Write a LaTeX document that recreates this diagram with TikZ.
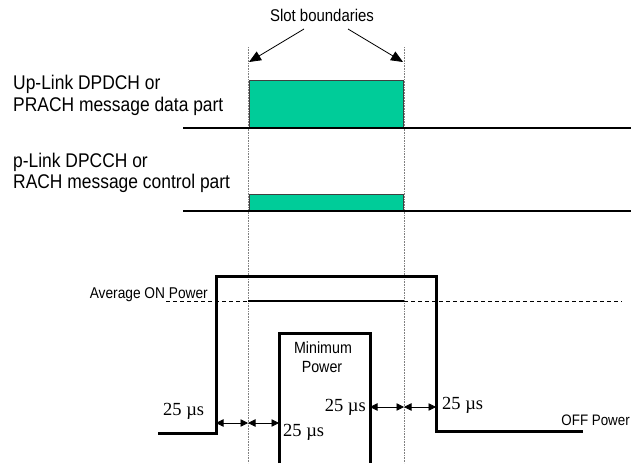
\documentclass[tikz,border=0pt]{standalone}
\usepackage{fontspec}
\setmainfont{Liberation Sans}[FakeStretch=0.88]
\newfontfamily\timesf{Liberation Serif}
\usetikzlibrary{arrows.meta}
\definecolor{slotgreen}{RGB}{0,204,153}
\begin{document}
\begin{tikzpicture}[x=1pt,y=-1pt,
  biglbl/.style={inner sep=0pt, font=\fontsize{19.8}{22}\selectfont, anchor=base west},
  smalllbl/.style={inner sep=0pt, font=\fontsize{15.6}{18}\selectfont},
  uslbl/.style={inner sep=0pt, font=\timesf\fontsize{18.5}{20}\selectfont, anchor=base west},
  slotline/.style={densely dotted, gray, line width=0.6pt},
  baseln/.style={line width=2.3pt},
  pulse/.style={line width=3pt, line join=miter},
  greenbox/.style={fill=slotgreen, draw=black!75, line width=0.9pt},
  slotarrow/.style={line width=0.8pt, -{Triangle[length=12pt,width=10pt]}},
  durarrow/.style={line width=0.8pt, {Triangle[length=7.5pt,width=7.5pt]}-{Triangle[length=7.5pt,width=7.5pt]}},
  avgdash/.style={line width=1pt, dash pattern=on 4pt off 3pt}
]
\useasboundingbox (0,0) rectangle (631,463);

% coordinates
\coordinate (dl1) at (248,47);  \coordinate (dl2) at (248,463);
\coordinate (dr1) at (404,47);  \coordinate (dr2) at (404,463);
\coordinate (as1) at (304,29);  \coordinate (at1) at (249,62);
\coordinate (as2) at (348,29);  \coordinate (at2) at (403,62);
\coordinate (b1s) at (183,128); \coordinate (b1e) at (631,128);
\coordinate (b2s) at (183,211); \coordinate (b2e) at (631,211);
\coordinate (g1a) at (249,80);  \coordinate (g1b) at (403,128);
\coordinate (g2a) at (249,194); \coordinate (g2b) at (403,211);
\coordinate (avs) at (166,301); \coordinate (ava) at (248,301);
\coordinate (avb) at (404,301); \coordinate (ave) at (622,301);
\coordinate (p0) at (158,433); \coordinate (p1) at (216,433);
\coordinate (p2) at (216,276); \coordinate (p3) at (436,276);
\coordinate (p4) at (436,431); \coordinate (p5) at (583,431);
\coordinate (m0) at (279,463); \coordinate (m1) at (279,333);
\coordinate (m2) at (370,333); \coordinate (m3) at (370,463);
\coordinate (la1) at (216,423); \coordinate (la2) at (248,423); \coordinate (la3) at (279,423);
\coordinate (ra1) at (370,407); \coordinate (ra2) at (404,407); \coordinate (ra3) at (436,407);

% slot boundary dotted lines
\draw[slotline] (dl1) -- (dl2);
\draw[slotline] (dr1) -- (dr2);

% text labels
\node[smalllbl, font=\fontsize{17}{20}\selectfont, anchor=base] (slot) at (322,21) {Slot boundaries};
\node[biglbl] (l1) at (13,89) {Up-Link DPDCH or};
\node[biglbl] (l2) at (13,111) {PRACH message data part};
\node[biglbl] (l3) at (13,167) {p-Link DPCCH or};
\node[biglbl] (l4) at (13,188) {RACH message control part};

% slot arrows
\draw[slotarrow] (as1) -- (at1);
\draw[slotarrow] (as2) -- (at2);

% green boxes and baselines
\draw[greenbox] (g1a) rectangle (g1b);
\draw[greenbox] (g2a) rectangle (g2b);
\draw[baseln] (b1s) -- (b1e);
\draw[baseln] (b2s) -- (b2e);

% average on power
\node[smalllbl, anchor=base east] (avg) at (208,298) {Average ON Power};
\draw[avgdash] (avs) -- (ava);
\draw[line width=1.3pt] (ava) -- (avb);
\draw[avgdash] (avb) -- (ave);

% power pulse
\draw[pulse] (p0) -- (p1) -- (p2) -- (p3) -- (p4) -- (p5);
\node[smalllbl, anchor=base east, font=\fontsize{15.2}{18}\selectfont] (off) at (630,425) {OFF Power};

% minimum power
\draw[pulse] (m0) -- (m1) -- (m2) -- (m3);
\node[smalllbl, anchor=base, font=\fontsize{16.2}{18}\selectfont] (min1) at (323,353) {Minimum};
\node[smalllbl, anchor=base, font=\fontsize{16.2}{18}\selectfont] (min2) at (322,372) {Power};

% durations
\draw[durarrow] (la1) -- (la2);
\draw[durarrow] (la2) -- (la3);
\draw[durarrow] (ra1) -- (ra2);
\draw[durarrow] (ra2) -- (ra3);
\node[uslbl] (u1) at (163,415) {25 µs};
\node[uslbl] (u2) at (283,436) {25 µs};
\node[uslbl, anchor=base east] (u3) at (366,411) {25 µs};
\node[uslbl] (u4) at (442,409) {25 µs};
\end{tikzpicture}
\end{document}
